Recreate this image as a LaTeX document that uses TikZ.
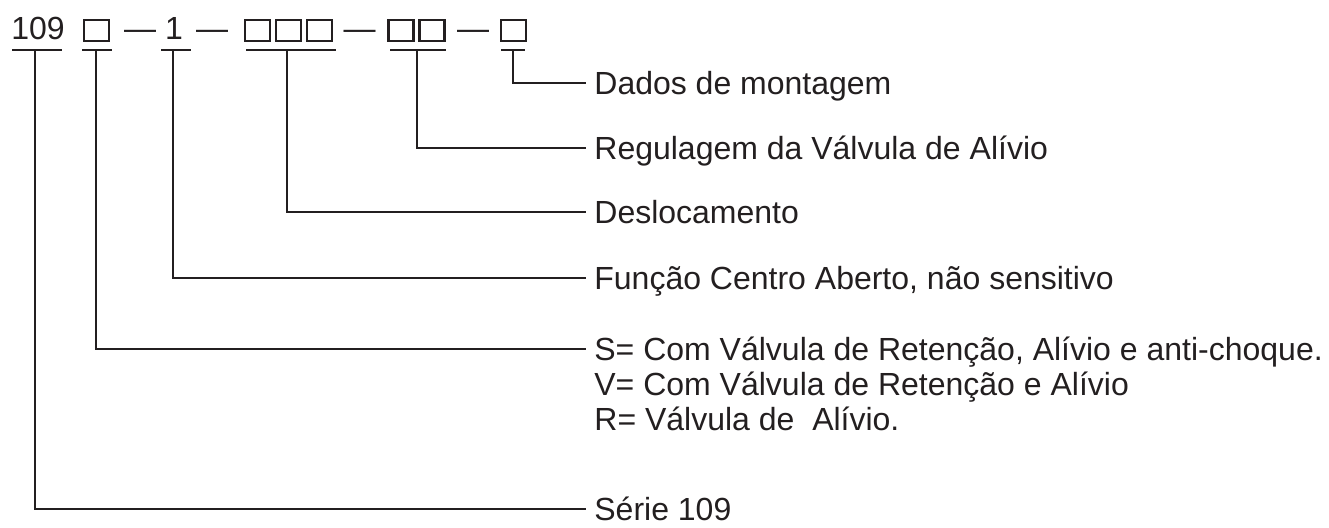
\documentclass[tikz,border=0pt]{standalone}
\usepackage{fontspec}
\setmainfont{Liberation Sans}
\usetikzlibrary{positioning}
\definecolor{ink}{HTML}{231F20}

\begin{document}
\begin{tikzpicture}[x=0.5pt, y=-0.5pt,
    every node/.style={font=\fontsize{16}{19}\selectfont, text=ink},
    code/.style={anchor=base, inner sep=0pt},
    cell/.style={draw=ink, line width=1.1pt, minimum width=12.5pt, minimum height=10.5pt, inner sep=0pt, outer sep=0pt},
    lead/.style={draw=ink, line width=1pt},
    lbl/.style={anchor=west, inner xsep=4pt, inner ysep=2.75pt, text height=11.5pt, text depth=0pt}]
  \useasboundingbox (0,0) rectangle (1329,527);

  % the code: 109 X - 1 - XXX - XX - X
  \node[code] (n109) at (38,39) {109};
  \node[cell] (b1) at (96.5,30.5) {};
  \node[code] (dash1) at (140,39) {—};
  \node[code] (n1) at (174,39) {1};
  \node[code] (dash2) at (212,39) {—};
  \node[cell] (c1) at (257.5,30.5) {};
  \node[cell, right=3pt of c1] (c2) {};
  \node[cell, right=3pt of c2] (c3) {};
  \node[code] (dash3) at (359.5,39) {—};
  \node[cell] (d1) at (401,30.5) {};
  \node[cell, right=3pt of d1] (d2) {};
  \node[code] (dash4) at (473,39) {—};
  \node[cell] (e1) at (513.5,30.5) {};

  % underlines
  \foreach \a/\b in {12/62, 82/112, 161/191, 246/336, 390/446, 501/525}
    \draw[lead] (\a,50) -- (\b,50);

  % legend
  \node[lbl] (dados) at (586,83) {Dados de montagem};
  \node[lbl] (reg) at (586,148) {Regulagem da Válvula de Alívio};
  \node[lbl] (desl) at (586,212) {Deslocamento};
  \node[lbl] (func) at (586,278) {Função Centro Aberto, não sensitivo};
  \node[lbl] (sel) at (586,349) {S= Com Válvula de Retenção, Alívio e anti-choque.};
  \node[lbl, anchor=north west] (valv) at (sel.south west) {V= Com Válvula de Retenção e Alívio};
  \node[lbl, anchor=north west] (rel) at (valv.south west) {R= Válvula de~ Alívio.};
  \node[lbl, inner ysep=0pt] (serie) at (586,509) {Série 109};

  % leaders
  \coordinate (u109) at (35,50);
  \coordinate (ub) at (96,50);
  \coordinate (u1) at (173,50);
  \coordinate (uc) at (287,50);
  \coordinate (ud) at (417,50);
  \coordinate (ue) at (513,50);
  \draw[lead] (ue) |- (dados.west);
  \draw[lead] (ud) |- (reg.west);
  \draw[lead] (uc) |- (desl.west);
  \draw[lead] (u1) |- (func.west);
  \draw[lead] (ub) |- (sel.west);
  \draw[lead] (u109) |- (serie.west);
\end{tikzpicture}
\end{document}
